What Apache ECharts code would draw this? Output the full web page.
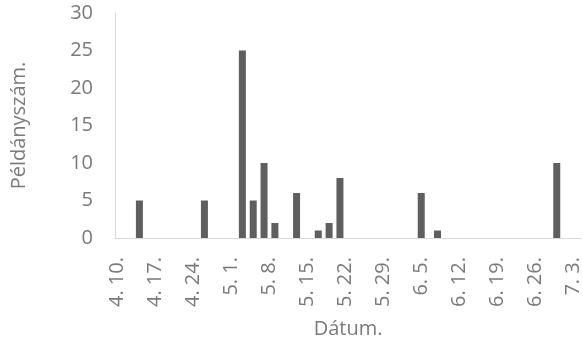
<!DOCTYPE html>
<html>
<head>
<meta charset="utf-8">
<script src="https://cdn.jsdelivr.net/npm/echarts@6/dist/echarts.min.js"></script>
<style>
  html, body { margin: 0; padding: 0; background: #ffffff; }
  #chart { width: 583px; height: 344px; }
</style>
</head>
<body>
<div id="chart"></div>
<script>
// Sampling dates (month, day) and specimen counts
const sampleMonths = [4, 4, 5, 5, 5, 5, 5, 5, 5, 5, 6, 6, 6];
const sampleDays   = [14, 26, 3, 5, 7, 9, 13, 17, 19, 21, 5, 8, 30];
const counts       = [5, 5, 25, 5, 10, 2, 6, 1, 2, 8, 6, 1, 10];

// Daily axis span: April 10 to July 4, weekly labels
const axisStart = { month: 4, day: 10 };
const axisEnd   = { month: 7, day: 4 };
const monthLengths = { 4: 30, 5: 31, 6: 30, 7: 31 };
const yTicks = [0, 5, 10, 15, 20, 25, 30];

// Build one category per day
const dayKeys = [];
const dayLabels = [];
{
  let m = axisStart.month, d = axisStart.day;
  while (true) {
    dayKeys.push(m + '-' + d);
    dayLabels.push(m + '. ' + d + '.');
    if (m === axisEnd.month && d === axisEnd.day) break;
    d++;
    if (d > monthLengths[m]) { d = 1; m++; }
  }
}

const daily = dayKeys.map(() => null);
sampleMonths.forEach((m, i) => {
  const idx = dayKeys.indexOf(m + '-' + sampleDays[i]);
  if (idx >= 0) daily[idx] = counts[i];
});

const textColor = '#7a7a7a';
const lineColor = '#d9d9d9';
const font = '"Open Sans", "Noto Sans", sans-serif';

const chart = echarts.init(document.getElementById('chart'), null, { renderer: 'canvas' });
chart.setOption({
  animation: false,
  backgroundColor: '#ffffff',
  grid: { left: 115, right: 1, top: 13, bottom: 106, containLabel: false },
  xAxis: {
    type: 'category',
    data: dayLabels,
    boundaryGap: true,
    z: 5,
    name: 'Dátum.',
    nameLocation: 'middle',
    nameGap: 81,
    nameTextStyle: { color: textColor, fontSize: 20, fontFamily: font },
    axisLine: { show: true, lineStyle: { color: lineColor, width: 1 } },
    axisTick: { show: false },
    axisLabel: {
      interval: 6,
      rotate: 90,
      margin: 19,
      color: textColor,
      fontSize: 20,
      fontFamily: font
    },
    splitLine: { show: false }
  },
  yAxis: {
    type: 'value',
    min: yTicks[0],
    max: yTicks[yTicks.length - 1],
    interval: yTicks[1] - yTicks[0],
    name: 'Példányszám.',
    nameLocation: 'middle',
    nameGap: 86,
    nameTextStyle: { color: textColor, fontSize: 20, fontFamily: font },
    axisLine: { show: true, lineStyle: { color: lineColor, width: 1 } },
    axisTick: { show: false },
    axisLabel: { margin: 22, color: textColor, fontSize: 20, fontFamily: font },
    splitLine: { show: false }
  },
  series: [{
    type: 'bar',
    data: daily,
    barWidth: 7,
    itemStyle: { color: '#5f5f5f' }
  }]
});
</script>
</body>
</html>
